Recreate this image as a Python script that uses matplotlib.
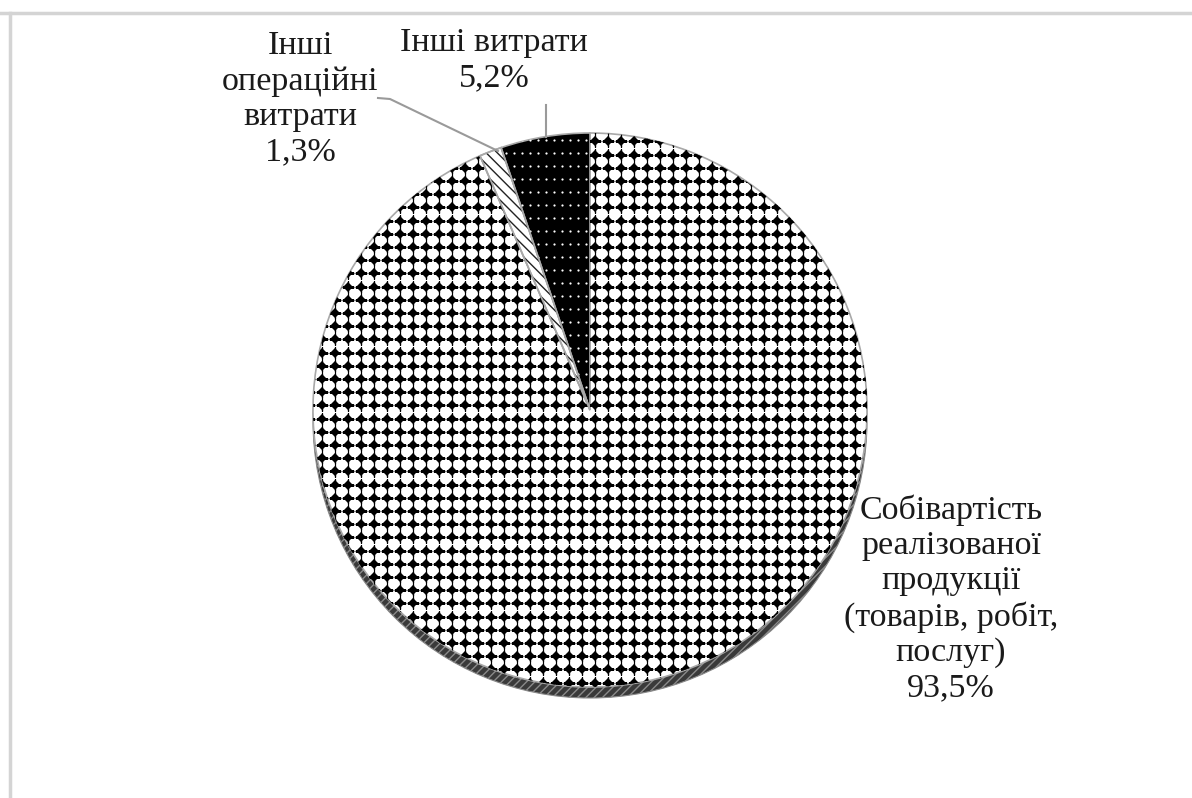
import numpy as np
import matplotlib.pyplot as plt
from matplotlib.patches import Circle, Wedge
from matplotlib.lines import Line2D

plt.rcParams['font.family'] = ['Liberation Serif', 'DejaVu Serif']

# cost structure, %
labels = ['Собівартість\nреалізованої\nпродукції\n(товарів, робіт,\nпослуг)',
          'Інші\nопераційні\nвитрати',
          'Інші витрати']
shares = [93.5, 1.3, 5.2]

W, H = 1192, 798
fig = plt.figure(figsize=(W / 100, H / 100), dpi=100)
ax = fig.add_axes([0, 0, 1, 1])

cx, cy, r = 590, H - 410, 277
depth = 11

wedges, _ = ax.pie(shares, center=(cx, cy), radius=r, startangle=90,
                   counterclock=False, colors=['white', 'white', 'black'],
                   wedgeprops=dict(edgecolor='#a8a8a8', linewidth=1.2),
                   frame=True)
for w in wedges:
    w.set_zorder(2)

ax.set_xlim(0, W)
ax.set_ylim(0, H)
ax.set_aspect('equal')
ax.axis('off')

# side of the disc peeking out below
ax.add_patch(Circle((cx, cy - depth), r, facecolor='#3a3a3a',
                    edgecolor='#8a8a8a', lw=0.8, hatch='////', zorder=1))

# diamond texture on the big slice
step = 13
gx = np.arange(595 - 26 * step, cx + r + step, step)
gy = H - np.arange(206 - 7 * step, 206 + 45 * step, 13.2)
X, Y = np.meshgrid(gx, gy)
d1, = ax.plot(X.ravel(), Y.ravel(), ls='none', marker='D', ms=5.0,
              color='black', mew=0, zorder=3)
d2, = ax.plot(X.ravel(), Y.ravel(), ls='none', marker='+', ms=8.5,
              color='black', mew=1.0, zorder=3)
d1.set_clip_path(wedges[0])
d2.set_clip_path(wedges[0])

# small white dots on the black slice
gx2 = np.arange(cx - 100, cx + 5, 8)
gy2 = H - np.arange(140, 420, 13)
X2, Y2 = np.meshgrid(gx2, gy2)
d3, = ax.plot(X2.ravel(), Y2.ravel(), ls='none', marker='o', ms=1.6,
              color='white', mew=0, zorder=3)
d3.set_clip_path(wedges[2])

# hatch on the thin slice
t1, t2 = wedges[1].theta1, wedges[1].theta2
ax.add_patch(Wedge((cx, cy), r, t1, t2, facecolor='none', edgecolor='#222222',
                   hatch='\\\\\\', lw=0, zorder=3))
ax.add_patch(Wedge((cx, cy), r, t1, t2, facecolor='none', edgecolor='#a8a8a8',
                   lw=1.2, zorder=4))

# labels
fs = 24.5
tc = '#1a1a1a'
ax.text(951, H - 599, labels[0] + '\n93,5%', ha='center', va='center',
        fontsize=fs, color=tc, linespacing=1.2)
ax.text(300, H - 99, labels[1] + '\n1,3%', ha='center', va='center',
        fontsize=fs, color=tc, linespacing=1.2)
ax.text(494, H - 60, labels[2] + '\n5,2%', ha='center', va='center',
        fontsize=fs, color=tc, linespacing=1.2)

# leader lines
ax.plot([378, 390, 498], [H - 98, H - 99, H - 151], color='#9a9a9a', lw=1.5, zorder=5)
ax.plot([546, 546], [H - 105, H - 137], color='#9a9a9a', lw=1.5, zorder=5)

# frame edges
fig.add_artist(Line2D([0, 1], [1 - 13 / H, 1 - 13 / H], transform=fig.transFigure,
                      color='#d4d4d4', lw=2.5))
fig.add_artist(Line2D([10 / W, 10 / W], [0, 1 - 13 / H], transform=fig.transFigure,
                      color='#d4d4d4', lw=2.5))

fig.savefig('out.png', dpi=100)
